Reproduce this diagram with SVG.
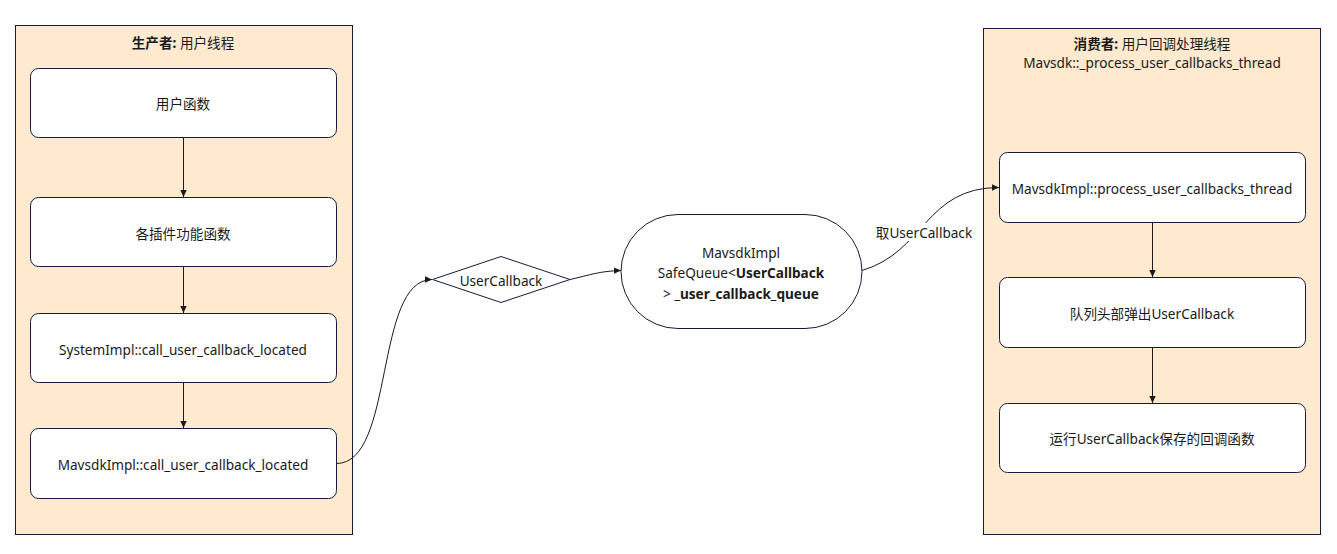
<svg xmlns="http://www.w3.org/2000/svg" width="1337" height="554" viewBox="0 0 1337 554">
<defs>
<style>
text{font-family:"Noto Sans","Noto Sans CJK SC",sans-serif;font-size:13.6px;fill:#1a1a1a;text-anchor:middle;dominant-baseline:central}
.b{font-weight:bold}
.lane{fill:#ffe9cf;stroke:#141a3c;stroke-width:1}
.box{fill:#ffffff;stroke:#141a3c;stroke-width:1}
.edge{fill:none;stroke:#1a1a1a;stroke-width:1}
</style>
<marker id="arr" markerWidth="8" markerHeight="8" refX="7" refY="4" orient="auto" markerUnits="userSpaceOnUse">
<path d="M0,0.8 L7,4 L0,7.2 Z" fill="#1a1a1a"/>
</marker>
</defs>
<rect width="1337" height="554" fill="#ffffff"/>
<g id="producer">
<rect class="lane" x="15.5" y="25.5" width="337" height="509"/>
<text x="183" y="42"><tspan class="b">生产者:</tspan> 用户线程</text>
</g>
<g id="consumer">
<rect class="lane" x="983.5" y="28.5" width="337" height="506"/>
<text x="1152" y="43"><tspan class="b">消费者:</tspan> 用户回调处理线程</text>
<text x="1152" y="62">Mavsdk::_process_user_callbacks_thread</text>
</g>
<g id="n_user_func">
<rect class="box" x="30.5" y="68.5" width="306" height="69" rx="8"/>
<text x="183" y="103">用户函数</text>
</g>
<g id="n_plugin_func">
<rect class="box" x="30.5" y="197.5" width="306" height="69" rx="8"/>
<text x="183" y="233">各插件功能函数</text>
</g>
<g id="n_system_impl">
<rect class="box" x="30.5" y="313.5" width="306" height="69" rx="8"/>
<text x="183" y="349">SystemImpl::call_user_callback_located</text>
</g>
<g id="n_mavsdk_impl">
<rect class="box" x="30.5" y="428.5" width="306" height="70" rx="8"/>
<text x="183" y="464">MavsdkImpl::call_user_callback_located</text>
</g>
<g id="n_usercallback">
<polygon class="box" points="432.5,279.5 501,256.5 570,279.5 501,302.5"/>
<text x="501" y="280">UserCallback</text>
</g>
<g id="n_queue">
<rect class="box" x="621" y="214.5" width="241" height="114" rx="57"/>
<text x="741" y="252">MavsdkImpl</text>
<text x="741" y="272">SafeQueue&lt;<tspan class="b">UserCallback</tspan></text>
<text x="741" y="293">&gt; <tspan class="b">_user_callback_queue</tspan></text>
</g>
<g id="n_process_thread">
<rect class="box" x="999.5" y="152.5" width="306" height="70" rx="8"/>
<text x="1152" y="188">MavsdkImpl::process_user_callbacks_thread</text>
</g>
<g id="n_pop">
<rect class="box" x="999.5" y="277.5" width="306" height="70" rx="8"/>
<text x="1152" y="313">队列头部弹出UserCallback</text>
</g>
<g id="n_run">
<rect class="box" x="999.5" y="403.5" width="306" height="69" rx="8"/>
<text x="1152" y="438">运行UserCallback保存的回调函数</text>
</g>
<g id="connectors">
<path class="edge" d="M183.5,137.5 V197" marker-end="url(#arr)"/>
<path class="edge" d="M183.5,266.5 V313" marker-end="url(#arr)"/>
<path class="edge" d="M183.5,382.5 V428" marker-end="url(#arr)"/>
<path class="edge" d="M336.5,463.5 C395,463.5 374,279.5 432,279.5" marker-end="url(#arr)"/>
<path class="edge" d="M570,279.5 C590,275 600,271 621,270.5" marker-end="url(#arr)"/>
<path class="edge" d="M862,270.5 C925,252 925,187.5 999,187.5" marker-end="url(#arr)"/>
<path class="edge" d="M1152.5,222.5 V277" marker-end="url(#arr)"/>
<path class="edge" d="M1152.5,347.5 V403" marker-end="url(#arr)"/>
<rect x="874" y="223" width="100" height="18" fill="#ffffff"/>
<text x="924" y="232">取UserCallback</text>
</g>
</svg>
